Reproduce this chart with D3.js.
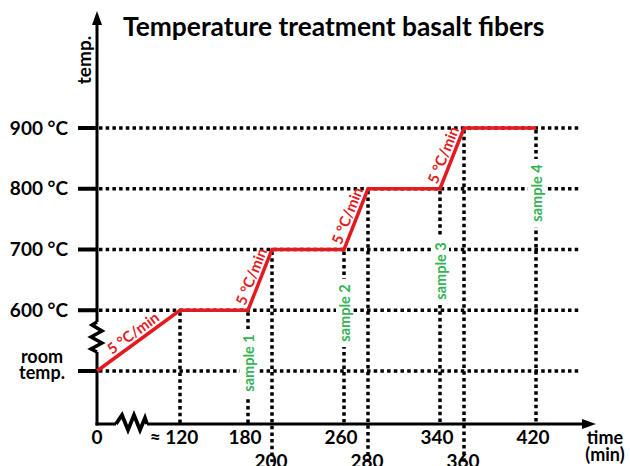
<!DOCTYPE html>
<html>
<head>
<meta charset="utf-8">
<script src="https://cdn.jsdelivr.net/npm/d3@7"></script>
<style>
  body { margin: 0; background: #fff; }
  svg { display: block; font-family: Lato, "Open Sans", sans-serif; }
</style>
</head>
<body>
<svg width="630" height="466"></svg>
<script>
'use strict';

// temperature levels, room temp drawn on the broken axis where 500 would be
const levelValues = [500, 600, 700, 800, 900];
const levelLabels = ["room temp.", "600 °C", "700 °C", "800 °C", "900 °C"];

// heating program
const profileTime = [0, 120, 180, 200, 260, 280, 340, 360, 420];
const profileTemp = [500, 600, 600, 700, 700, 800, 800, 900, 900];

const tickTimes = [0, 120, 180, 260, 340, 420];
const tickLabels = ["0", "≈ 120", "180", "260", "340", "420"];
const lowTimes = [200, 280, 360];

const sampleNames = ["sample 1", "sample 2", "sample 3", "sample 4"];
const sampleTimes = [180, 260, 340, 420];
const rateText = "5 °C/min";

const svg = d3.select("svg");
const red = "#e31b1f", green = "#34b355";

const x = d3.scaleLinear().domain([0, 120, 180, 420]).range([97, 180, 248, 536]);
const y = d3.scaleLinear().domain([500, 900]).range([371, 128]);
const axisY = 424;

function dotted(g) {
    return g.attr("stroke", "#000").attr("stroke-width", 3.5)
        .attr("stroke-dasharray", "3.5 3.2").attr("fill", "none");
}

// horizontal guide lines
svg.append("g").selectAll("line").data(levelValues).enter().append("line")
    .attr("x1", 99).attr("x2", 579)
    .attr("y1", d => y(d)).attr("y2", d => y(d))
    .call(dotted);

// tick labels under the axis (lower row first so the dots sit on top)
svg.append("g").selectAll("text").data(lowTimes).enter().append("text")
    .attr("x", d => x(d) - 1).attr("y", 468)
    .attr("text-anchor", "middle").attr("font-size", 19).attr("font-weight", 700)
    .text(d => d);

// vertical guide lines from each corner of the program
const corners = profileTime.map((t, i) => ({t: t, v: profileTemp[i]})).slice(1);
svg.append("g").selectAll("line").data(corners).enter().append("line")
    .attr("x1", d => x(d.t)).attr("x2", d => x(d.t))
    .attr("y1", d => y(d.v) + 2)
    .attr("y2", d => lowTimes.includes(d.t) ? 462 : axisY)
    .call(dotted);

// sample labels, white backing hides the dots underneath
const sampleCenter = [363, 313, 271, 193];
const sg = svg.append("g").selectAll("g").data(sampleNames).enter().append("g")
    .attr("transform", (d, i) => `translate(${x(sampleTimes[i]) + 1},${sampleCenter[i]}) rotate(-90)`);
sg.append("rect").attr("x", -34).attr("y", -9).attr("width", 68).attr("height", 17).attr("fill", "#fff");
sg.append("text")
    .attr("text-anchor", "middle").attr("dy", "0.35em")
    .attr("font-size", 14.5).attr("font-weight", 700).attr("fill", green)
    .text(d => d);

// axes
svg.append("path")
    .attr("d", `M97,${axisY + 1.5}V352M97,322V20`)
    .attr("stroke", "#000").attr("stroke-width", 3).attr("fill", "none");
svg.append("path")
    .attr("d", `M95.5,${axisY}H116M147,${axisY}H586`)
    .attr("stroke", "#000").attr("stroke-width", 3).attr("fill", "none");
svg.append("path").attr("d", "M97,11L92,25L102,25Z").attr("fill", "#000");
svg.append("path").attr("d", `M596,${axisY}L582,${axisY - 5}L582,${axisY + 5}Z`).attr("fill", "#000");

// axis breaks
const brkY = [[97, 322], [92, 325], [102, 331], [91, 337], [102, 343], [91, 349], [97, 352]];
const brkX = [[116, axisY], [122, 415], [128, 430], [134, 415], [140, 430], [145, 418], [147, axisY]];
svg.append("path").attr("d", d3.line()(brkY))
    .attr("stroke", "#000").attr("stroke-width", 3.5).attr("fill", "none");
svg.append("path").attr("d", d3.line()(brkX))
    .attr("stroke", "#000").attr("stroke-width", 3.8).attr("fill", "none");

// level ticks and labels
svg.append("g").selectAll("line").data(levelValues).enter().append("line")
    .attr("x1", 78).attr("x2", 97)
    .attr("y1", d => y(d)).attr("y2", d => y(d))
    .attr("stroke", "#000").attr("stroke-width", 4);

const lab = svg.append("g").selectAll("text").data(levelValues).enter().append("text")
    .attr("font-size", 19).attr("font-weight", 700);
lab.filter((d, i) => i > 0)
    .attr("x", 68).attr("y", d => y(d)).attr("dy", "0.35em")
    .attr("text-anchor", "end")
    .text((d, i) => levelLabels[i + 1]);
lab.filter((d, i) => i === 0)
    .attr("text-anchor", "middle").attr("font-size", 18)
    .selectAll("tspan").data(levelLabels[0].split(" ")).enter().append("tspan")
    .attr("x", 42).attr("y", (d, i) => y(500) - 8 + i * 16)
    .text(d => d);

// time ticks
svg.append("g").selectAll("text").data(tickTimes).enter().append("text")
    .attr("x", (d, i) => x(d) - (i === 0 ? 0 : i === 1 ? 6 : 3)).attr("y", 444)
    .attr("text-anchor", "middle").attr("font-size", 19).attr("font-weight", 700)
    .text((d, i) => tickLabels[i]);

// axis titles
svg.append("text").attr("transform", "translate(84,60) rotate(-90)")
    .attr("text-anchor", "middle").attr("dy", "0.35em")
    .attr("font-size", 19).attr("font-weight", 700).text("temp.");
svg.append("text").attr("text-anchor", "middle")
    .attr("font-size", 18).attr("font-weight", 700)
    .selectAll("tspan").data(["time", "(min)"]).enter().append("tspan")
    .attr("x", 605).attr("y", (d, i) => 444 + i * 17).text(d => d);

svg.append("text").attr("x", 123).attr("y", 36)
    .attr("font-size", 26.4).attr("font-weight", 700)
    .text("Temperature treatment basalt fibers");

// heating curve
const pts = profileTime.map((t, i) => [x(t), y(profileTemp[i])]);
svg.append("path").attr("d", d3.line()(pts))
    .attr("stroke", red).attr("stroke-width", 3.5).attr("fill", "none")
    .attr("stroke-linejoin", "miter");

// ramp rate labels
const ramps = [];
for (let i = 0; i < profileTime.length - 1; i++) {
    if (profileTemp[i + 1] > profileTemp[i]) ramps.push([pts[i], pts[i + 1]]);
}
svg.append("g").selectAll("text").data(ramps).enter().append("text")
    .attr("transform", d => {
        const dx = d[1][0] - d[0][0], dy = d[1][1] - d[0][1];
        const len = Math.hypot(dx, dy), a = Math.atan2(dy, dx) * 180 / Math.PI;
        const mx = (d[0][0] + d[1][0]) / 2 + dy / len * 4;
        const my = (d[0][1] + d[1][1]) / 2 - dx / len * 4;
        return `translate(${mx},${my}) rotate(${a})`;
    })
    .attr("text-anchor", "middle").attr("font-size", 15).attr("font-weight", 700)
    .attr("fill", red).text(rateText);
</script>
</body>
</html>
